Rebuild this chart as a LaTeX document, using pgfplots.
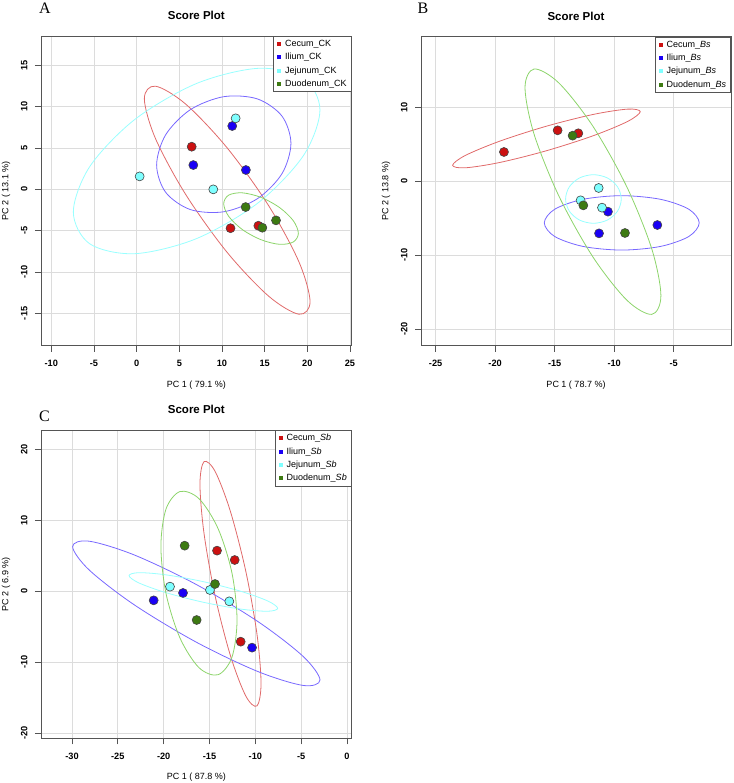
\documentclass[border=0pt]{standalone}
\usepackage{fontspec}
\setmainfont{Liberation Sans}
\newfontfamily\letterfont{Liberation Serif}
\usepackage{pgfplots}
\pgfplotsset{compat=1.18}

\definecolor{ptred}{HTML}{CC1111}
\definecolor{ptblue}{HTML}{1A00F5}
\definecolor{ptcyan}{HTML}{7FFFFF}
\definecolor{ptgreen}{HTML}{3D7A12}
\definecolor{elred}{HTML}{E06A6A}
\definecolor{elblue}{HTML}{7868FF}
\definecolor{elcyan}{HTML}{99FFFF}
\definecolor{elgreen}{HTML}{8CD46A}
\definecolor{ptedge}{HTML}{444444}
\definecolor{boxgray}{HTML}{555555}
\definecolor{gridgray}{HTML}{DCDCDC}

\pgfplotsset{
  score/.style={
    scale only axis, anchor=south west,
    axis line style={draw=boxgray, line width=0.9pt},
    grid=major, major grid style={draw=gridgray, line width=0.9pt},
    tick align=outside, major tick length=6pt,
    tick style={draw=boxgray, line width=0.8pt},
    xtick pos=left, ytick pos=left,
    ticklabel style={font=\bfseries\fontsize{9.2}{11}\selectfont},
    /pgf/number format/assume math mode=true,
    xticklabel style={yshift=-5pt},
    yticklabel style={xshift=-4pt, rotate=90, anchor=south},
    title style={font=\bfseries\fontsize{11.5}{13}\selectfont,
      at={(axis description cs:0.5,1)}, anchor=center, yshift=14.5pt},
    label style={font=\fontsize{9}{11}\selectfont},
    xlabel style={at={(axis description cs:0.5,0)}, anchor=center, yshift=-39pt},
    ylabel style={at={([xshift=-35pt]axis description cs:0,0.5)}, anchor=center},
    legend style={at={(rel axis cs:1,1)}, anchor=north east, draw=boxgray,
      line width=0.9pt, fill=white, font=\fontsize{9}{10}\selectfont,
      inner xsep=2.5pt, inner ysep=2pt, row sep=1.2pt},
    legend cell align=left,
  },
  ell/.style={smooth cycle, tension=0.53, line width=0.8pt, forget plot},
  pts/.style={only marks, mark=*, mark size=4.5pt, draw=ptedge, line width=0.6pt,
    legend image code/.code={\fill[draw=none] (1pt,-2pt) rectangle (5pt,2pt);
      \path[draw=none] (0pt,0pt) (7pt,0pt);}},
}

\begin{document}
\begin{tikzpicture}
\path[use as bounding box] (0pt,0pt) rectangle (733pt,-783pt);

\node[font=\letterfont\fontsize{16}{16}\selectfont] at (45pt,-8.5pt) {A};
\node[font=\letterfont\fontsize{16}{16}\selectfont] at (423pt,-8.5pt) {B};
\node[font=\letterfont\fontsize{16}{16}\selectfont] at (44.5pt,-416pt) {C};

% ---- A
\begin{axis}[score, at={(41pt,-345.7pt)}, width=310.7pt, height=309.7pt,
  xmin=-11.21, xmax=25.2, ymin=-18.91, ymax=18.55,
  xtick={-10,-5,...,25}, ytick={-15,-10,...,15},
  title={Score Plot}, xlabel={PC 1 ( 79.1 \%)}, ylabel={PC 2 ( 13.1 \%)}]
\addplot[ell, elred] coordinates {(20.32,-13.59) (19.02,-8.78) (15.47,-1.98) (10.61,5.01) (5.76,10.30) (2.20,12.48) (0.90,10.97) (2.20,6.16) (5.76,-0.64) (10.61,-7.63) (15.47,-12.92) (19.02,-15.10)};
\addplot[ell, elblue] coordinates {(18.08,5.56) (17.03,8.86) (14.15,10.94) (10.21,11.21) (6.28,9.63) (3.40,6.60) (2.34,2.94) (3.40,-0.36) (6.28,-2.44) (10.21,-2.71) (14.15,-1.13) (17.03,1.90)};
\addplot[ell, elcyan] coordinates {(21.48,9.60) (19.54,13.46) (14.26,14.64) (7.03,12.81) (-0.20,8.47) (-5.48,2.78) (-7.42,-2.74) (-5.48,-6.60) (-0.20,-7.78) (7.03,-5.95) (14.26,-1.61) (19.54,4.08)};
\addplot[ell, elgreen] coordinates {(18.95,-5.32) (18.36,-3.80) (16.76,-2.21) (14.57,-0.97) (12.38,-0.42) (10.78,-0.70) (10.20,-1.74) (10.78,-3.26) (12.38,-4.86) (14.57,-6.09) (16.76,-6.65) (18.36,-6.36)};
\addplot[pts, fill=ptred] coordinates {(6.45,5.16) (11.0,-4.7) (14.26,-4.4)};
\addlegendentry{Cecum\_CK}
\addplot[pts, fill=ptblue] coordinates {(11.2,7.66) (6.64,2.94) (12.8,2.34)};
\addlegendentry{Ilium\_CK}
\addplot[pts, fill=ptcyan] coordinates {(11.6,8.59) (0.35,1.57) (8.98,0.0)};
\addlegendentry{Jejunum\_CK}
\addplot[pts, fill=ptgreen] coordinates {(12.77,-2.14) (14.73,-4.64) (16.33,-3.75)};
\addlegendentry{Duodenum\_CK}
\end{axis}

% ---- B
\begin{axis}[score, at={(421pt,-345.7pt)}, width=310pt, height=309pt,
  xmin=-26.23, xmax=-0.18, ymin=-22.24, ymax=19.57,
  xtick={-25,-20,...,-5}, ytick={-20,-10,0,10},
  title={Score Plot}, xlabel={PC 1 ( 78.7 \%)}, ylabel={PC 2 ( 13.8 \%)}]
\addplot[ell, elred] coordinates {(-7.805,9.43) (-8.86,9.77) (-11.75,9.055) (-15.69,7.46) (-19.63,5.425) (-22.52,3.49) (-23.575,2.17) (-22.52,1.83) (-19.63,2.545) (-15.69,4.14) (-11.75,6.175) (-8.86,8.11)};
\addplot[ell, elblue] coordinates {(-2.85,-5.62) (-3.722,-3.78) (-6.105,-2.433) (-9.36,-1.94) (-12.615,-2.433) (-14.998,-3.78) (-15.87,-5.62) (-14.998,-7.46) (-12.615,-8.807) (-9.36,-9.30) (-6.105,-8.807) (-3.722,-7.46)};
\addplot[ell, elcyan] coordinates {(-9.40,-2.39) (-9.714,-0.745) (-10.57,0.46) (-11.74,0.90) (-12.91,0.46) (-13.766,-0.745) (-14.08,-2.39) (-13.766,-4.035) (-12.91,-5.24) (-11.74,-5.68) (-10.57,-5.24) (-9.714,-4.035)};
\addplot[ell, elgreen] coordinates {(-6.07,-15.47) (-6.835,-9.16) (-8.925,-0.78) (-11.78,7.44) (-14.635,13.29) (-16.725,15.20) (-17.49,12.67) (-16.725,6.36) (-14.635,-2.02) (-11.78,-10.24) (-8.925,-16.09) (-6.835,-18.00)};
\addplot[pts, fill=ptred] coordinates {(-19.26,3.97) (-14.75,6.90) (-13.01,6.50)};
\addlegendentry{Cecum\_\textit{Bs}}
\addplot[pts, fill=ptblue] coordinates {(-10.52,-4.10) (-11.27,-7.04) (-6.37,-5.91)};
\addlegendentry{Ilium\_\textit{Bs}}
\addplot[pts, fill=ptcyan] coordinates {(-11.30,-0.90) (-12.82,-2.57) (-11.02,-3.56)};
\addlegendentry{Jejunum\_\textit{Bs}}
\addplot[pts, fill=ptgreen] coordinates {(-13.49,6.18) (-12.59,-3.25) (-9.09,-6.99)};
\addlegendentry{Duodenum\_\textit{Bs}}
\end{axis}

% ---- C
\begin{axis}[score, at={(41pt,-738.3pt)}, width=310.7pt, height=308.3pt,
  xmin=-33.38, xmax=0.51, ymin=-20.7, ymax=22.72,
  xtick={-30,-25,...,0}, ytick={-20,-10,...,20},
  title={Score Plot}, xlabel={PC 1 ( 87.8 \%)}, ylabel={PC 2 ( 6.9 \%)}]
\addplot[ell, elred] coordinates {(-9.38,-12.95) (-9.826,-6.00) (-11.045,2.845) (-12.71,11.21) (-14.375,16.855) (-15.594,18.265) (-16.04,15.07) (-15.594,8.115) (-14.375,-0.725) (-12.71,-9.09) (-11.045,-14.735) (-9.826,-16.145)};
\addplot[ell, elblue] coordinates {(-2.95,-12.49) (-4.76,-9.20) (-9.695,-4.28) (-16.44,0.96) (-23.185,5.11) (-28.12,7.06) (-29.93,6.29) (-28.12,3.00) (-23.185,-1.92) (-16.44,-7.16) (-9.695,-11.31) (-4.76,-13.26)};
\addplot[ell, elcyan] coordinates {(-7.56,-2.39) (-8.647,-1.357) (-11.615,0.016) (-15.67,1.36) (-19.725,2.316) (-22.693,2.627) (-23.78,2.21) (-22.693,1.177) (-19.725,-0.196) (-15.67,-1.54) (-11.615,-2.496) (-8.647,-2.807)};
\addplot[ell, elgreen] coordinates {(-12.0,-4.04) (-12.556,2.605) (-14.075,8.86) (-16.15,13.05) (-18.225,14.05) (-19.744,11.595) (-20.30,6.34) (-19.744,-0.305) (-18.225,-6.56) (-16.15,-10.75) (-14.075,-11.75) (-12.556,-9.295)};
\addplot[pts, fill=ptred] coordinates {(-14.18,5.73) (-12.25,4.41) (-11.6,-7.09)};
\addlegendentry{Cecum\_\textit{Sb}}
\addplot[pts, fill=ptblue] coordinates {(-21.09,-1.27) (-17.89,-0.23) (-10.36,-7.93)};
\addlegendentry{Ilium\_\textit{Sb}}
\addplot[pts, fill=ptcyan] coordinates {(-19.31,0.66) (-14.95,0.19) (-12.84,-1.41)};
\addlegendentry{Jejunum\_\textit{Sb}}
\addplot[pts, fill=ptgreen] coordinates {(-17.71,6.43) (-14.4,1.03) (-16.4,-4.04)};
\addlegendentry{Duodenum\_\textit{Sb}}
\end{axis}
\end{tikzpicture}
\end{document}
